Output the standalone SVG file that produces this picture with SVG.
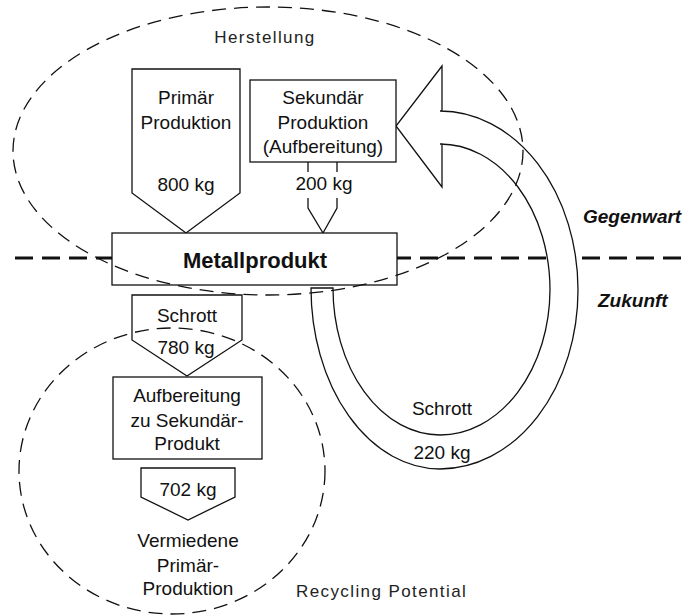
<svg xmlns="http://www.w3.org/2000/svg" width="688" height="615" viewBox="0 0 688 615">
<style>
  .bg { fill: #ffffff; }
  .shape { fill: #ffffff; stroke: #111111; stroke-width: 1.3; stroke-linejoin: miter; }
  .line { fill: none; stroke: #111111; stroke-width: 1.3; }
  .t { font-family: "Liberation Sans", Arial, sans-serif; font-size: 19px; fill: #111111; text-anchor: middle; }
  .tb { font-family: "Liberation Sans", Arial, sans-serif; font-size: 22px; font-weight: bold; fill: #111111; text-anchor: middle; }
  .ti { font-family: "Liberation Sans", Arial, sans-serif; font-size: 19px; font-weight: bold; font-style: italic; fill: #111111; }
  .tl { font-family: "Liberation Sans", Arial, sans-serif; font-size: 17px; letter-spacing: 1.4px; fill: #222222; }
  .region { fill: none; stroke: #111111; stroke-width: 1.3; stroke-dasharray: 14 8; }
  .divider { fill: none; stroke: #111111; stroke-width: 3; stroke-dasharray: 18 9; }
</style>
<rect class="bg" x="0" y="0" width="688" height="615"/>

<line id="divider" class="divider" x1="15" y1="258" x2="688" y2="258"/>

<g id="connectors">
  <path id="flow-schrott-220" class="shape" d="M333,288 L311,288 A129,181 0 0 0 440,469 A138,179 0 0 0 578,290 A138,179 0 0 0 440,111 L442,111 L442,66 L396,126 L442,187 L442,144 L440,144 A110,146 0 0 1 550,290 A110,146 0 0 1 440,435 A107,147 0 0 1 333,288 Z"/>
  <path id="flow-200" class="line" d="M308,162 V172 M337,162 V172 M308,198 V208 L323,233 L337,208 V198"/>
  <text class="t" x="442" y="415">Schrott</text>
  <text class="t" x="442" y="459">220 kg</text>
  <text class="t" x="324" y="190">200 kg</text>
</g>

<g id="primaer">
  <path class="shape" d="M132,69 H240 V193 L186,233 L132,193 Z"/>
  <text class="t" x="186" y="104">Primär</text>
  <text class="t" x="186" y="129">Produktion</text>
  <text class="t" x="186" y="191">800 kg</text>
</g>

<g id="sekundaer">
  <rect class="shape" x="250" y="80" width="146" height="82"/>
  <text class="t" x="323" y="104">Sekundär</text>
  <text class="t" x="323" y="129">Produktion</text>
  <text class="t" x="323" y="153">(Aufbereitung)</text>
</g>

<g id="metallprodukt">
  <rect class="shape" x="112" y="233" width="285" height="52"/>
  <text class="tb" x="255" y="268">Metallprodukt</text>
</g>

<g id="schrott">
  <path class="shape" d="M132,295 H242 V340 L187,376 L132,340 Z"/>
  <text class="t" x="187" y="322">Schrott</text>
  <text class="t" x="186" y="354">780 kg</text>
</g>

<g id="aufbereitung">
  <rect class="shape" x="113" y="377" width="149" height="82"/>
  <text class="t" x="187" y="402">Aufbereitung</text>
  <text class="t" x="187" y="427">zu Sekundär-</text>
  <text class="t" x="187" y="450">Produkt</text>
</g>

<g id="vermiedene">
  <path class="shape" d="M141,468 H235 V497 L188,520 L141,497 Z"/>
  <text class="t" x="188" y="496">702 kg</text>
  <text class="t" x="188" y="547">Vermiedene</text>
  <text class="t" x="188" y="572">Primär-</text>
  <text class="t" x="188" y="595">Produktion</text>
</g>

<g id="herstellung">
  <ellipse class="region" cx="268" cy="151" rx="255" ry="144"/>
  <text class="tl" x="265" y="43" text-anchor="middle">Herstellung</text>
</g>

<g id="recycling-potential">
  <ellipse class="region" cx="172" cy="471" rx="153" ry="143"/>
  <text class="tl" x="296" y="597">Recycling Potential</text>
</g>

<g id="labels">
  <text class="ti" x="583" y="223">Gegenwart</text>
  <text class="ti" x="598" y="307">Zukunft</text>
</g>
</svg>
